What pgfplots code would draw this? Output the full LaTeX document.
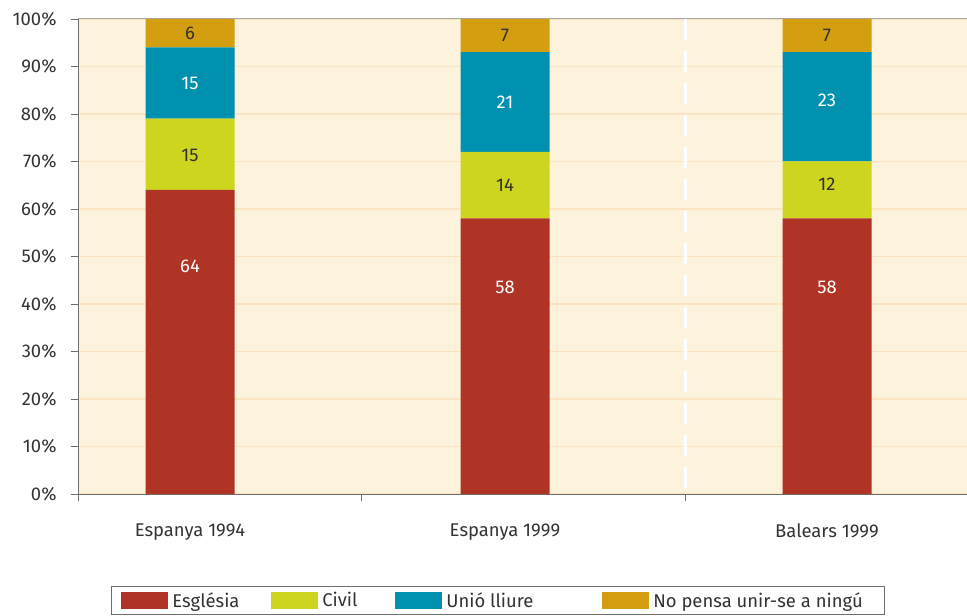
\documentclass[border=0pt]{standalone}
\usepackage{pgfplots}
\pgfplotsset{compat=1.18}
\usepackage{fontspec}
\setmainfont{Fira Sans}
\definecolor{bgc}{HTML}{FDF2DC}
\definecolor{gridc}{HTML}{FBE4C2}
\definecolor{cRed}{HTML}{B03426}
\definecolor{cYel}{HTML}{CDD51F}
\definecolor{cTeal}{HTML}{0191B0}
\definecolor{cGold}{HTML}{D39F10}
\definecolor{txt}{HTML}{333333}
\definecolor{axc}{HTML}{6E6E6E}
\tikzset{vl/.style={font=\fontsize{18.5}{21}\selectfont}}
\begin{document}
\begin{tikzpicture}
\begin{axis}[
  scale only axis, width=889bp, height=475bp,
  xmin=78, xmax=967, ymin=0, ymax=100,
  axis background/.style={fill=bgc},
  axis line style={draw=none},
  ytick={0,10,...,100},
  yticklabel={\pgfmathprintnumber{\tick}\%},
  ymajorgrids, grid style={gridc, line width=1.5bp},
  xtick={78,361,685}, xticklabels={},
  extra x ticks={190,505,827},
  extra x tick labels={Espanya 1994,Espanya 1999,Balears 1999},
  extra x tick style={grid=none, major tick length=0pt, xticklabel style={yshift=-26bp}},
  xtick pos=bottom, ytick pos=left,
  tick align=outside, major tick length=7bp,
  tick style={axc, line width=0.8bp},
  /pgf/number format/assume math mode=true,
  tick label style={font=\fontsize{18.5}{21}\selectfont, text=txt},
  yticklabel style={xshift=-11bp},
  ybar stacked, bar width=89bp,
  legend columns=4,
  legend style={at={(axis description cs:0.0371,-0.1935)}, anchor=north west,
    draw=axc, line width=0.8bp, inner xsep=10bp, inner ysep=4bp,
    font=\fontsize{18.5}{21}\selectfont, text=txt,
    /tikz/every even column/.style={column sep=0bp}},
  legend cell align=left,
  legend image code/.code={\fill[#1] (0bp,-8.5bp) rectangle (47bp,8.5bp);},
]
\addplot[fill=cRed, draw=none] coordinates {(190,64) (505,58) (827,58)};
\addplot[fill=cYel, draw=none] coordinates {(190,15) (505,14) (827,12)};
\addplot[fill=cTeal, draw=none] coordinates {(190,15) (505,21) (827,23)};
\addplot[fill=cGold, draw=none] coordinates {(190,6) (505,7) (827,7)};
\legend{\makebox[99bp][l]{\hspace*{2bp}Església},\makebox[73bp][l]{\hspace*{2bp}Civil},\makebox[156bp][l]{\hspace*{2bp}Unió lliure},\makebox[221bp][l]{\hspace*{2bp}No pensa unir-se a ningú}}
\draw[gray!70, line width=1bp] (axis cs:78,100) -- (axis cs:967,100);
\draw[axc, line width=0.8bp] (axis cs:78,0) -- (axis cs:78,100);
\draw[axc, line width=0.8bp] (axis cs:78,0) -- (axis cs:967,0);
\draw[white, line width=3bp, dash pattern=on 21bp off 11bp] (axis cs:685,100) -- (axis cs:685,1);
\coordinate (a1) at (axis cs:190,48);
\coordinate (a2) at (axis cs:190,71.2);
\coordinate (a3) at (axis cs:190,86.5);
\coordinate (a4) at (axis cs:190,97);
\coordinate (b1) at (axis cs:505,43.5);
\coordinate (b2) at (axis cs:505,65);
\coordinate (b3) at (axis cs:505,82.5);
\coordinate (b4) at (axis cs:505,96.5);
\coordinate (c1) at (axis cs:827,43.5);
\coordinate (c2) at (axis cs:827,65.2);
\coordinate (c3) at (axis cs:827,82.8);
\coordinate (c4) at (axis cs:827,96.5);
\end{axis}
\node[vl, white] at (a1) {64};
\node[vl, txt] at (a2) {15};
\node[vl, white] at (a3) {15};
\node[vl, txt] at (a4) {6};
\node[vl, white] at (b1) {58};
\node[vl, txt] at (b2) {14};
\node[vl, white] at (b3) {21};
\node[vl, txt] at (b4) {7};
\node[vl, white] at (c1) {58};
\node[vl, txt] at (c2) {12};
\node[vl, white] at (c3) {23};
\node[vl, txt] at (c4) {7};
\pgfresetboundingbox
\path ([xshift=-78bp,yshift=-122bp]current axis.south west) rectangle ([yshift=19bp]current axis.north east);
\end{tikzpicture}
\end{document}
